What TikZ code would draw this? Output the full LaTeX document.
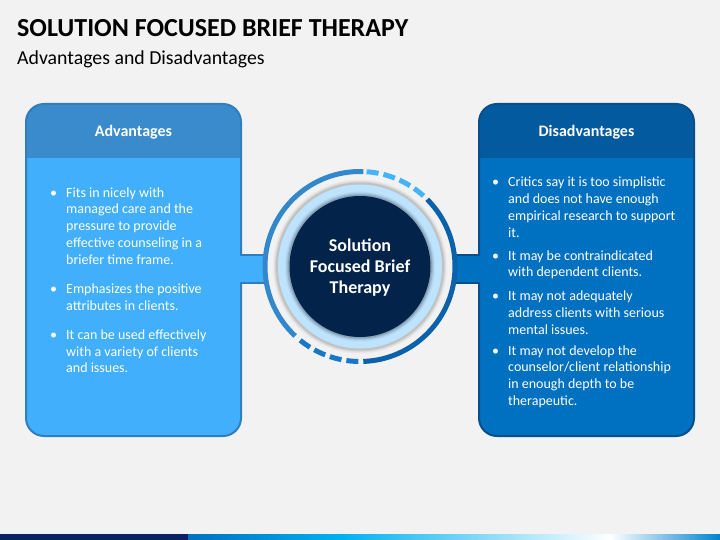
\documentclass[tikz,border=0pt]{standalone}
\usepackage{fontspec}
\setmainfont{Carlito}
\usepackage{tikz}

\definecolor{slidebg}{HTML}{F2F2F2}
\definecolor{advhead}{HTML}{3A8BCB}
\definecolor{advbody}{HTML}{41AFFC}
\definecolor{advline}{HTML}{2F7EC0}
\definecolor{dishead}{HTML}{045A9E}
\definecolor{disbody}{HTML}{0070C0}
\definecolor{disline}{HTML}{0A4F8C}
\definecolor{hubnavy}{HTML}{03234A}
\definecolor{hublight}{HTML}{BEE3FF}
\definecolor{ringleft}{HTML}{3388CB}
\definecolor{ringtop}{HTML}{45B3FA}
\definecolor{ringright}{HTML}{0B62AB}
\definecolor{ringbottom}{HTML}{1877C6}
\definecolor{barnavy}{HTML}{0A2263}
\definecolor{barblue}{HTML}{0070C0}
\definecolor{barcyan}{HTML}{00B0F0}

\newcommand{\pointtext}[1]{\parbox[t]{185pt}{\raggedright\leavevmode\llap{\textbullet\hspace{9pt}}#1}}

\tikzset{
	itemtext/.style = {anchor = base west, inner sep = 0, text = white, font = \fontsize{14}{16.8}\selectfont},
	headtext/.style = {anchor = base, inner sep = 0, text = white, font = \bfseries\fontsize{16}{19}\selectfont},
	hubtext/.style = {anchor = base, inner sep = 0, text = white, font = \bfseries\fontsize{18}{21}\selectfont}
}

\begin{document}
\begin{tikzpicture}[x = 1pt, y = -1pt]
			\def\cx{360};
			\def\cy{266.5};
			\def\rRing{95};

			\fill [slidebg] (0,0) rectangle (720,540);

			\node [anchor = base west, inner sep = 0, font = \bfseries\fontsize{26}{30}\selectfont] (title) at (17,36.7) {SOLUTION FOCUSED BRIEF THERAPY};
			\node [anchor = base west, inner sep = 0, font = \fontsize{19.8}{23}\selectfont] (subtitle) at (17,65) {Advantages and Disadvantages};

			\foreach \xl/\xr/\head/\body/\edge in {26/241/advhead/advbody/advline, 479/694/dishead/disbody/disline}
			{
				\begin{scope}
					\clip [rounded corners = 18] (\xl,104) rectangle (\xr,436);
					\fill [\body] (\xl,104) rectangle (\xr,436);
					\fill [\head] (\xl,104) rectangle (\xr,158.5);
				\end{scope}
				\draw [\edge, line width = 2, rounded corners = 18] (\xl,104) rectangle (\xr,436);
			}

			\begin{scope}[line width = 2]
				\fill [advbody] (239,255) rectangle (266,283);
				\draw [advline] (240,255) -- (266,255) (240,283) -- (266,283);
				\fill [disbody] (454,255) rectangle (481,283);
				\draw [disline] (454,255) -- (480,255) (454,283) -- (480,283);
			\end{scope}

			\begin{scope}
				\fill [slidebg] (\cx,\cy) circle (\rRing);
				\foreach \r/\op in {87/0.03, 86/0.04, 85/0.06, 84/0.08}
				{
					\fill [black, opacity = \op] (\cx,\cy) circle (\r);
				}
				\fill [hublight] (\cx,\cy) circle (82);
				\foreach \r/\op in {75/0.04, 74/0.06, 73/0.09, 72/0.12}
				{
					\fill [black, opacity = \op] (\cx,\cy) circle (\r);
				}
				\fill [hubnavy] (\cx,\cy) circle (70.5);
			\end{scope}

			\begin{scope}[line width = 5, line cap = butt]
				\draw [ringleft] (\cx,\cy) ++(-88:\rRing) arc [start angle = -88, end angle = -227, radius = \rRing];
				\draw [ringtop, dash pattern = on 12pt off 5pt] (\cx,\cy) ++(-86:\rRing) arc [start angle = -86, end angle = -48, radius = \rRing];
				\draw [ringright] (\cx,\cy) ++(-45:\rRing) arc [start angle = -45, end angle = 88, radius = \rRing];
				\draw [ringbottom, dash pattern = on 12pt off 5pt] (\cx,\cy) ++(91:\rRing) arc [start angle = 91, end angle = 130, radius = \rRing];
			\end{scope}

			\node [hubtext] (hub) at (\cx,251.7) {\parbox[t]{130pt}{\centering Solution\\Focused Brief\\Therapy}};

			\node [headtext] (adv-head) at (133.5,136.7) {Advantages};
			\node [headtext] (dis-head) at (586.5,136.7) {Disadvantages};

			\node [itemtext] (adv-1) at (66,197) {\pointtext{Fits in nicely with\\managed care and the\\pressure to provide\\effective counseling in a\\briefer time frame.}};
			\node [itemtext] (adv-2) at (66,293.3) {\pointtext{Emphasizes the positive\\attributes in clients.}};
			\node [itemtext] (adv-3) at (66,339.3) {\pointtext{It can be used effectively\\with a variety of clients\\and issues.}};

			\node [itemtext] (dis-1) at (508,186.7) {\pointtext{Critics say it is too simplistic\\and does not have enough\\empirical research to support\\it.}};
			\node [itemtext] (dis-2) at (508,260) {\pointtext{It may be contraindicated\\with dependent clients.}};
			\node [itemtext] (dis-3) at (508,300.7) {\pointtext{It may not adequately\\address clients with serious\\mental issues.}};
			\node [itemtext] (dis-4) at (508,355) {\pointtext{It may not develop the\\counselor/client relationship\\in enough depth to be\\therapeutic.}};

			\begin{scope}
				\fill [barnavy] (0,534) rectangle (188,540);
				\shade [left color = barblue, right color = barcyan] (188,534) rectangle (340,540);
				\shade [left color = barcyan, right color = white] (340,534) rectangle (610,540);
				\shade [left color = white, right color = barblue!70!barcyan] (610,534) rectangle (720,540);
			\end{scope}
		\end{tikzpicture}
\end{document}
